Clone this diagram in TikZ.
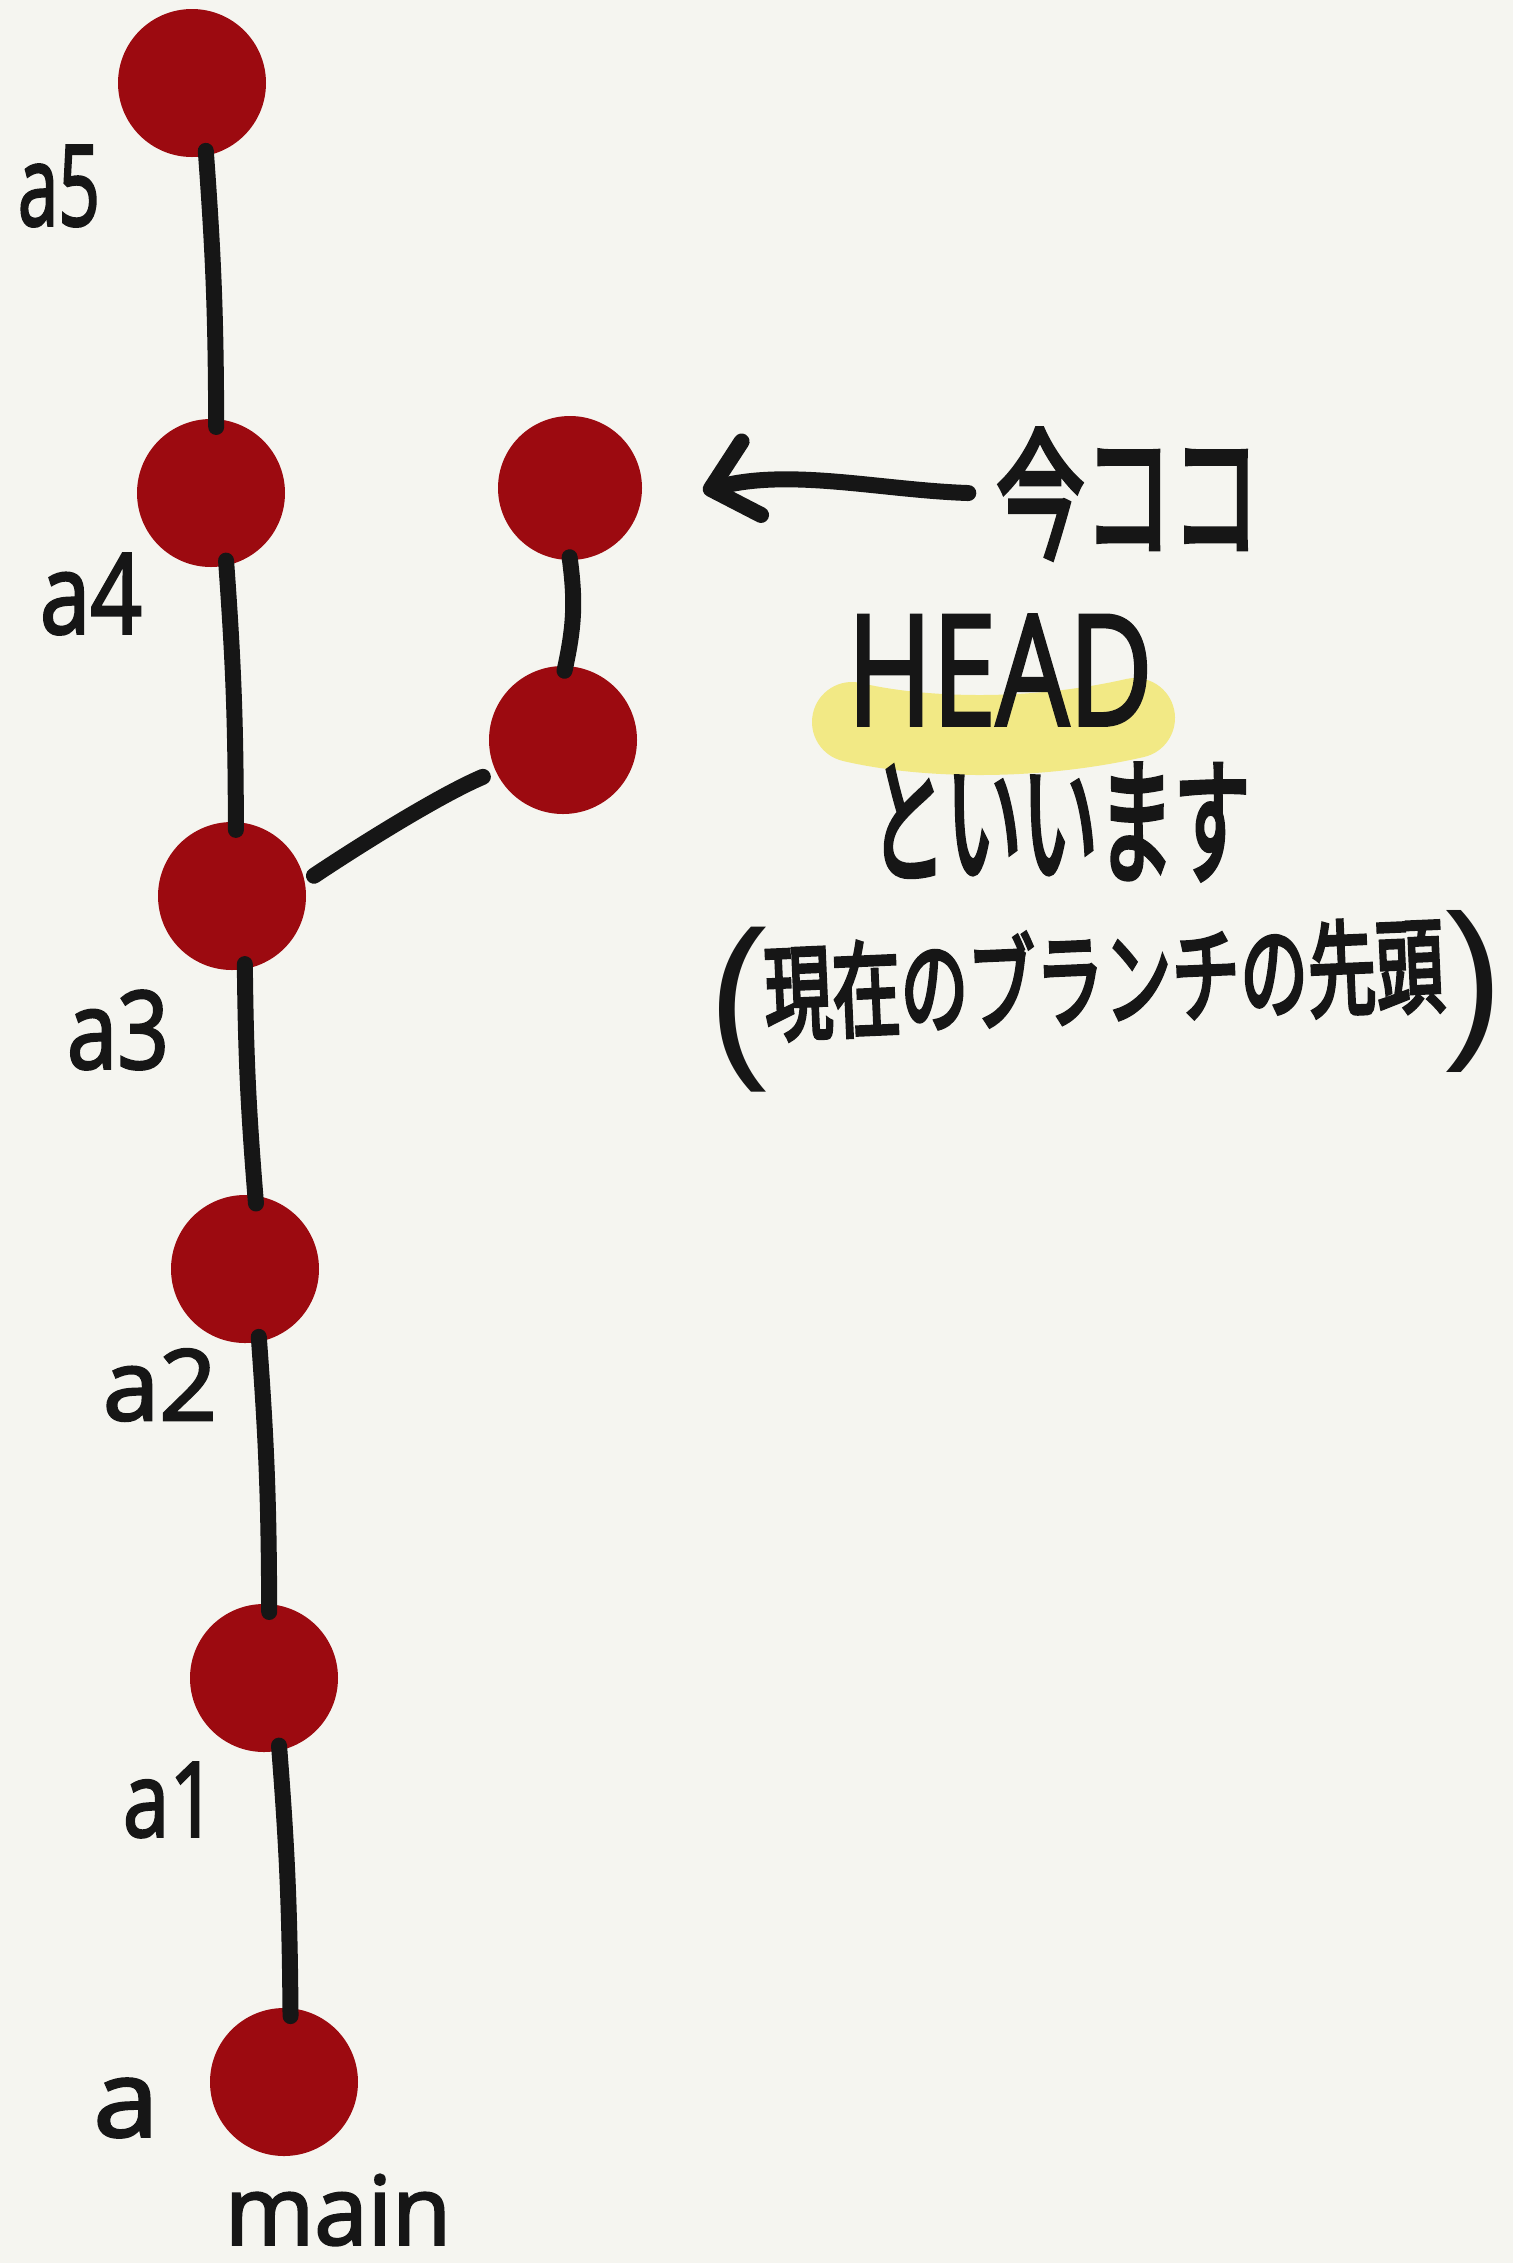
\documentclass[tikz,border=0pt]{standalone}
\usepackage{fontspec}
\setmainfont{Open Sans}
\newfontfamily\lat{Open Sans}[FakeBold=2.5]
\newfontfamily\parf{Liberation Sans}
\newfontfamily\jp{Noto Sans CJK JP}[FakeBold=4]
\usetikzlibrary{arrows.meta}
\definecolor{bg}{HTML}{F5F5F0}
\definecolor{cherry}{HTML}{9C0A10}
\definecolor{ink}{HTML}{161616}
\definecolor{hl}{HTML}{F2E985}
\begin{document}
\begin{tikzpicture}[x=1pt,y=-1pt,
  commit/.style={circle, fill=cherry, minimum size=148pt, inner sep=0pt},
  conn/.style={draw=ink, line width=16pt, line cap=round, line join=round},
  lbl/.style={text=ink, inner sep=0pt, font=\lat}]
\fill[bg] (0,0) rectangle (1513,2263);
\useasboundingbox (0,0) rectangle (1513,2263);
% highlight behind HEAD
\draw[hl, line width=80pt, line cap=round] (852,722) .. controls (920,738) and (1030,742) .. (1135,718);
% commits
\node[commit] (a5) at (192,83) {};
\node[commit] (a4) at (211,493) {};
\node[commit, minimum size=144pt] (head) at (570,488) {};
\node[commit] (br) at (563,740) {};
\node[commit] (a3) at (232,896) {};
\node[commit] (a2) at (245,1269) {};
\node[commit] (a1) at (264,1678) {};
\node[commit] (a0) at (284,2082) {};
% connectors
\draw[conn, shorten <=-5pt, shorten >=-8pt] (a5.-79) to[bend left=2] (a4.86);
\draw[conn, shorten <=-5pt, shorten >=-8pt] (a4.-78) to[bend left=2] (a3.87);
\draw[conn, shorten <=-5pt, shorten >=-8pt] (a3.-80) to[bend right=2] (a2.82);
\draw[conn, shorten <=-5pt, shorten >=-8pt] (a2.-79) to[bend left=2] (a1.86);
\draw[conn, shorten <=-5pt, shorten >=-8pt] (a1.-78) to[bend left=2] (a0.85);
\draw[conn, shorten <=-5pt, shorten >=-3pt] (br.88) to[bend right=10] (head.-90);
\draw[conn, shorten <=11pt, shorten >=14pt] (a3.11) .. controls (360,845) and (440,795) .. (br.205);
% labels
\node[lbl] (l5) at (59,186) {\resizebox{82pt}{80pt}{a5}};
\node[lbl] (l4) at (91,594) {\resizebox{102pt}{80pt}{a4}};
\node[lbl] (l3) at (118,1030) {\resizebox{102pt}{78pt}{a3}};
\node[lbl] (l2) at (160,1385) {\resizebox{114pt}{71pt}{a2}};
\node[lbl] (l1) at (170,1800) {\resizebox{94pt}{74pt}{a1}};
\node[lbl] (l0) at (126,2108) {\resizebox{65pt}{58pt}{a}};
\node[lbl] (lmain) at (338,2210) {\resizebox{226pt}{70pt}{main}};
% right texts
\node[lbl] (imakoko) at (1128,494) {\resizebox*{263pt}{130pt}{\jp 今ココ}};
\coordinate (tip) at (703,491);
\draw[conn, shorten <=28pt, -{Straight Barb[length=42pt,width=76pt,round]}] (imakoko.west) .. controls (880,490) and (790,468) .. (tip);
\node[lbl] (headtxt) at (1000,670) {\resizebox{305pt}{110pt}{HEAD}};
\node[lbl] (iimasu) at (1060,822) {\resizebox*{380pt}{116pt}{\jp といいます}};
\node[lbl, font=\parf] (lp) at (738,1010) {\resizebox*{!}{165pt}{(}};
\node[lbl, rotate=2.5] (desc) at (1104,978) {\resizebox*{680pt}{98pt}{\jp 現在のブランチの先頭}};
\node[lbl, font=\parf] (rp) at (1474,991) {\resizebox*{!}{162pt}{)}};
\end{tikzpicture}
\end{document}
